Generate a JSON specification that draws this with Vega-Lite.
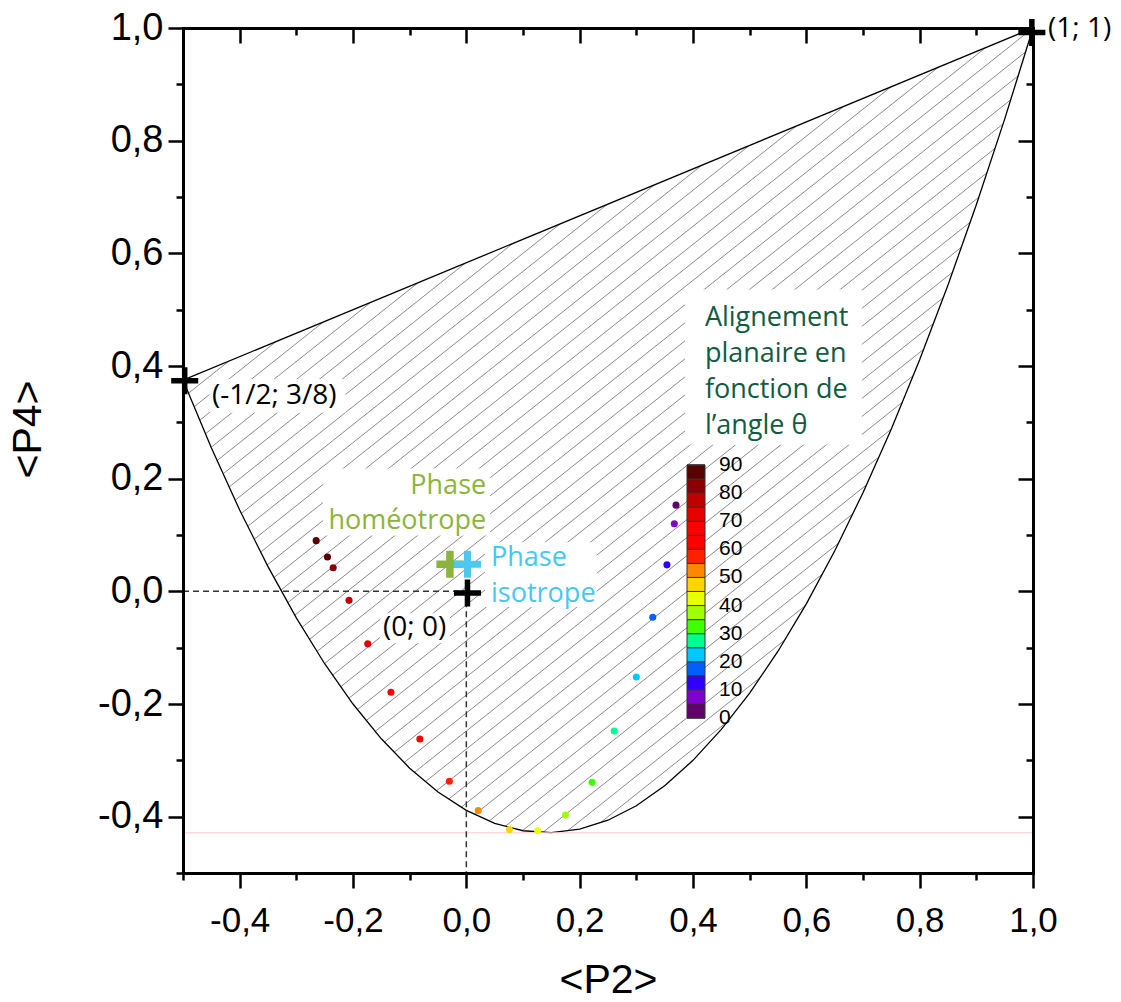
{
  "$schema": "https://vega.github.io/schema/vega-lite/v6.json",
  "width": 850,
  "height": 845,
  "autosize": {"type": "none"},
  "padding": {"left": 183, "top": 28, "right": 88, "bottom": 129},
  "background": "white",
  "config": {
    "font": "Liberation Sans",
    "view": {"stroke": null},
    "locale": {"number": {"decimal": ",", "thousands": " ", "grouping": [3], "currency": ["", " €"], "minus": "-"}},
    "axis": {"domainColor": "black", "domainWidth": 3, "domainCap": "square", "tickColor": "black", "tickWidth": 2.5, "grid": false, "labelFont": "Liberation Sans", "labelFontSize": 35, "labelColor": "black", "titleFont": "Liberation Sans", "titleFontSize": 41, "titleFontWeight": "normal", "titleColor": "black", "labelOverlap": false, "labelFlush": false}
  },
  "datasets": {
    "bound": [
      {"p2": -0.5, "p4": 0.375}, {"p2": -0.45, "p4": 0.2549}, {"p2": -0.4, "p4": 0.1444}, {"p2": -0.35, "p4": 0.0438},
      {"p2": -0.3, "p4": -0.0472}, {"p2": -0.25, "p4": -0.1285}, {"p2": -0.2, "p4": -0.2}, {"p2": -0.15, "p4": -0.2618},
      {"p2": -0.1, "p4": -0.3139}, {"p2": -0.05, "p4": -0.3563}, {"p2": 0, "p4": -0.3889}, {"p2": 0.05, "p4": -0.4118},
      {"p2": 0.1, "p4": -0.425}, {"p2": 0.15, "p4": -0.4285}, {"p2": 0.2, "p4": -0.4222}, {"p2": 0.25, "p4": -0.4063},
      {"p2": 0.3, "p4": -0.3806}, {"p2": 0.35, "p4": -0.3451}, {"p2": 0.4, "p4": -0.3}, {"p2": 0.45, "p4": -0.2451},
      {"p2": 0.5, "p4": -0.1806}, {"p2": 0.55, "p4": -0.1063}, {"p2": 0.6, "p4": -0.0222}, {"p2": 0.65, "p4": 0.0715},
      {"p2": 0.7, "p4": 0.175}, {"p2": 0.75, "p4": 0.2882}, {"p2": 0.8, "p4": 0.4111}, {"p2": 0.85, "p4": 0.5438},
      {"p2": 0.9, "p4": 0.6861}, {"p2": 0.95, "p4": 0.8382}, {"p2": 1, "p4": 1}
    ],
    "upper": [{"p2": -0.5, "p4": 0.375}, {"p2": 1, "p4": 1}],
    "hatch": [
      {"a": -1.555, "b": 0.32}, {"a": -1.515, "b": 0.36}, {"a": -1.475, "b": 0.4}, {"a": -1.435, "b": 0.44},
      {"a": -1.395, "b": 0.48}, {"a": -1.355, "b": 0.52}, {"a": -1.315, "b": 0.56}, {"a": -1.275, "b": 0.6},
      {"a": -1.235, "b": 0.64}, {"a": -1.195, "b": 0.68}, {"a": -1.155, "b": 0.72}, {"a": -1.115, "b": 0.76},
      {"a": -1.075, "b": 0.8}, {"a": -1.035, "b": 0.84}, {"a": -0.995, "b": 0.88}, {"a": -0.955, "b": 0.92},
      {"a": -0.915, "b": 0.96}, {"a": -0.875, "b": 1.0}, {"a": -0.835, "b": 1.04}, {"a": -0.795, "b": 1.08},
      {"a": -0.755, "b": 1.12}, {"a": -0.715, "b": 1.16}, {"a": -0.675, "b": 1.2}, {"a": -0.635, "b": 1.24},
      {"a": -0.595, "b": 1.28}, {"a": -0.555, "b": 1.32}, {"a": -0.515, "b": 1.36}, {"a": -0.475, "b": 1.4},
      {"a": -0.435, "b": 1.44}, {"a": -0.395, "b": 1.48}, {"a": -0.355, "b": 1.52}, {"a": -0.315, "b": 1.56},
      {"a": -0.275, "b": 1.6}, {"a": -0.235, "b": 1.64}, {"a": -0.195, "b": 1.68}, {"a": -0.155, "b": 1.72},
      {"a": -0.115, "b": 1.76}, {"a": -0.075, "b": 1.8}, {"a": -0.035, "b": 1.84}, {"a": 0.005, "b": 1.88},
      {"a": 0.045, "b": 1.92}, {"a": 0.085, "b": 1.96}, {"a": 0.125, "b": 2.0}
    ],
    "boxes": [
      {"x1": 0.386, "x2": 0.698, "y1": 0.26, "y2": 0.536},
      {"x1": -0.253, "x2": 0.042, "y1": 0.099, "y2": 0.218},
      {"x1": 0.033, "x2": 0.23, "y1": -0.028, "y2": 0.087},
      {"x1": -0.152, "x2": -0.029, "y1": -0.092, "y2": -0.039},
      {"x1": -0.453, "x2": -0.213, "y1": 0.317, "y2": 0.377}
    ],
    "planar": [
      {"theta": 90, "p2": -0.265, "p4": 0.09},
      {"theta": 85, "p2": -0.245, "p4": 0.061},
      {"theta": 80, "p2": -0.235, "p4": 0.042},
      {"theta": 75, "p2": -0.207, "p4": -0.016},
      {"theta": 70, "p2": -0.174, "p4": -0.093},
      {"theta": 65, "p2": -0.133, "p4": -0.179},
      {"theta": 60, "p2": -0.082, "p4": -0.262},
      {"theta": 55, "p2": -0.030, "p4": -0.337},
      {"theta": 50, "p2": 0.021, "p4": -0.389},
      {"theta": 45, "p2": 0.076, "p4": -0.423},
      {"theta": 40, "p2": 0.126, "p4": -0.425},
      {"theta": 35, "p2": 0.175, "p4": -0.397},
      {"theta": 30, "p2": 0.222, "p4": -0.339},
      {"theta": 25, "p2": 0.261, "p4": -0.248},
      {"theta": 20, "p2": 0.300, "p4": -0.152},
      {"theta": 15, "p2": 0.329, "p4": -0.046},
      {"theta": 10, "p2": 0.354, "p4": 0.047},
      {"theta": 5, "p2": 0.367, "p4": 0.120},
      {"theta": 0, "p2": 0.370, "p4": 0.153}
    ]
  },
  "resolve": {"axis": {"x": "independent", "y": "independent"}},
  "layer": [
    {
      "data": {"name": "hatch"},
      "mark": {"type": "rule", "color": "#8a8a8a", "strokeWidth": 1, "clip": true},
      "encoding": {
        "x": {"field": "a", "type": "quantitative", "axis": null, "scale": {"domain": [-0.5, 1], "nice": false, "zero": false}},
        "x2": {"field": "b"},
        "y": {"datum": -0.5, "type": "quantitative", "axis": null, "scale": {"domain": [-0.5, 1], "nice": false, "zero": false}},
        "y2": {"datum": 1}
      }
    },
    {
      "data": {"name": "bound"},
      "mark": {"type": "area", "color": "white", "opacity": 1},
      "encoding": {
        "x": {"field": "p2", "type": "quantitative", "axis": null},
        "y": {"field": "p4", "type": "quantitative", "axis": null},
        "y2": {"datum": -0.5}
      }
    },
    {
      "data": {"name": "upper"},
      "mark": {"type": "area", "color": "white", "opacity": 1},
      "encoding": {
        "x": {"field": "p2", "type": "quantitative", "axis": null},
        "y": {"field": "p4", "type": "quantitative", "axis": null},
        "y2": {"datum": 1}
      }
    },
    {
      "data": {"name": "boxes"},
      "mark": {"type": "rect", "color": "white", "opacity": 1},
      "encoding": {
        "x": {"field": "x1", "type": "quantitative", "axis": null},
        "x2": {"field": "x2"},
        "y": {"field": "y1", "type": "quantitative", "axis": null},
        "y2": {"field": "y2"}
      }
    },
    {
      "data": {"name": "bound"},
      "mark": {"type": "line", "color": "black", "strokeWidth": 1.3},
      "encoding": {
        "x": {"field": "p2", "type": "quantitative", "scale": {"domain": [-0.5, 1], "nice": false, "zero": false},
          "axis": {"orient": "bottom", "zindex": 1, "values": [-0.5, -0.4, -0.3, -0.2, -0.1, 0, 0.1, 0.2, 0.3, 0.4, 0.5, 0.6, 0.7, 0.8, 0.9, 1.0],
            "format": ".1f", "labelExpr": "abs(round(datum.value*10)) % 2 == 0 ? datum.label : ''",
            "tickSize": {"condition": {"test": "abs(round(datum.value*10)) % 2 == 0", "value": 15}, "value": 7},
            "labelPadding": 15, "title": "<P2>", "titleX": 425, "titleY": 107, "titleBaseline": "middle", "titleAlign": "center"}},
        "y": {"field": "p4", "type": "quantitative", "scale": {"domain": [-0.5, 1], "nice": false, "zero": false},
          "axis": {"orient": "left", "zindex": 1, "values": [-0.5, -0.4, -0.3, -0.2, -0.1, 0, 0.1, 0.2, 0.3, 0.4, 0.5, 0.6, 0.7, 0.8, 0.9, 1.0],
            "format": ".1f", "labelExpr": "abs(round(datum.value*10)) % 2 == 0 ? datum.label : ''",
            "tickSize": {"condition": {"test": "abs(round(datum.value*10)) % 2 == 0", "value": 15}, "value": 7},
            "labelFontSize": 38, "labelPadding": 5, "title": "<P4>", "titleX": -155, "titleY": 401, "titleAngle": -90, "titleBaseline": "middle", "titleAlign": "center"}}
      }
    },
    {
      "data": {"name": "upper"},
      "mark": {"type": "line", "color": "black", "strokeWidth": 1.3},
      "encoding": {
        "x": {"field": "p2", "type": "quantitative",
          "axis": {"orient": "top", "zindex": 1, "values": [-0.5, -0.4, -0.3, -0.2, -0.1, 0, 0.1, 0.2, 0.3, 0.4, 0.5, 0.6, 0.7, 0.8, 0.9, 1.0],
            "labels": false, "title": null,
            "tickSize": {"condition": {"test": "abs(round(datum.value*10)) % 2 == 0", "value": -15}, "value": -7}}},
        "y": {"field": "p4", "type": "quantitative",
          "axis": {"orient": "right", "zindex": 1, "values": [-0.5, -0.4, -0.3, -0.2, -0.1, 0, 0.1, 0.2, 0.3, 0.4, 0.5, 0.6, 0.7, 0.8, 0.9, 1.0],
            "labels": false, "title": null,
            "tickSize": {"condition": {"test": "abs(round(datum.value*10)) % 2 == 0", "value": -15}, "value": -7}}}
      }
    },
    {
      "data": {"values": [{"pmin": -0.4286}]},
      "mark": {"type": "rule", "color": "#ffcccc", "strokeWidth": 1},
      "encoding": {"y": {"field": "pmin", "type": "quantitative", "axis": null}}
    },
    {
      "data": {"values": [{"x1": -0.5, "y1": 0, "x2": 0, "y2": 0}, {"x1": 0, "y1": 0, "x2": 0, "y2": -0.5}]},
      "mark": {"type": "rule", "color": "#333333", "strokeWidth": 1.5, "strokeDash": [6, 4]},
      "encoding": {
        "x": {"field": "x1", "type": "quantitative", "axis": null},
        "x2": {"field": "x2"},
        "y": {"field": "y1", "type": "quantitative", "axis": null},
        "y2": {"field": "y2"}
      }
    },
    {
      "data": {"name": "planar"},
      "mark": {"type": "circle", "size": 50, "opacity": 1},
      "encoding": {
        "x": {"field": "p2", "type": "quantitative", "axis": null},
        "y": {"field": "p4", "type": "quantitative", "axis": null},
        "color": {"field": "theta", "type": "quantitative",
          "scale": {"type": "quantize", "domain": [-0.01, 90.0005],
            "range": ["#600068", "#8000d0", "#3000ff", "#0060ff", "#00c8ff", "#00ff90", "#40ff00", "#a0ff00", "#e8ff00", "#ffd400", "#ff8800", "#ff2000", "#ff0000", "#ff0000", "#e80000", "#c00000", "#8b0000", "#5a0000"]},
          "legend": {"type": "gradient", "orient": "none", "legendX": 504, "legendY": 437, "direction": "vertical", "padding": 0,
            "gradientLength": 253, "gradientThickness": 18, "title": null,
            "values": [-0.001, 0, 5, 10, 15, 20, 25, 30, 35, 40, 45, 50, 55, 60, 65, 70, 75, 80, 85, 90],
            "labelExpr": "datum.value >= 0 && round(datum.value) % 10 == 0 ? datum.label : ''",
            "labelFont": "Liberation Sans", "labelFontSize": 21, "labelColor": "black", "labelOffset": 14, "labelOverlap": false,
            "gradientStrokeColor": "#333333", "gradientStrokeWidth": 1}}
      }
    },
    {
      "data": {"values": [{"p2": 0.998, "p4": 0.992}, {"p2": -0.497, "p4": 0.374}, {"p2": 0.002, "p4": -0.003}]},
      "mark": {"type": "point", "shape": "M-1,0H1M0,-1V1", "filled": false, "stroke": "black", "strokeWidth": 5.5, "size": 729, "opacity": 1},
      "encoding": {
        "x": {"field": "p2", "type": "quantitative", "axis": null},
        "y": {"field": "p4", "type": "quantitative", "axis": null}
      }
    },
    {
      "data": {"values": [{"p2": -0.029, "p4": 0.048}]},
      "mark": {"type": "point", "shape": "M-1,0H1M0,-1V1", "filled": false, "stroke": "#8cb43c", "strokeWidth": 7.5, "size": 729, "opacity": 1},
      "encoding": {
        "x": {"field": "p2", "type": "quantitative", "axis": null},
        "y": {"field": "p4", "type": "quantitative", "axis": null}
      }
    },
    {
      "data": {"values": [{"p2": 0.002, "p4": 0.048}]},
      "mark": {"type": "point", "shape": "M-1,0H1M0,-1V1", "filled": false, "stroke": "#4cc9f0", "strokeWidth": 7, "size": 729, "opacity": 1},
      "encoding": {
        "x": {"field": "p2", "type": "quantitative", "axis": null},
        "y": {"field": "p4", "type": "quantitative", "axis": null}
      }
    },
    {
      "data": {"values": [{"t": "(1; 1)", "p2": 1.0265, "p4": 0.998}, {"t": "(-1/2; 3/8)", "p2": -0.449, "p4": 0.347}, {"t": "(0; 0)", "p2": -0.147, "p4": -0.065}]},
      "mark": {"type": "text", "font": "Open Sans", "fontSize": 28, "color": "black", "align": "left", "baseline": "middle"},
      "encoding": {
        "x": {"field": "p2", "type": "quantitative", "axis": null},
        "y": {"field": "p4", "type": "quantitative", "axis": null},
        "text": {"field": "t"}
      }
    },
    {
      "data": {"values": [{"t": "Phase\nhoméotrope", "p2": 0.035, "p4": 0.1876}]},
      "mark": {"type": "text", "font": "Open Sans", "fontSize": 27, "color": "#8cb43c", "align": "right", "baseline": "middle", "lineBreak": "\n", "lineHeight": 35},
      "encoding": {
        "x": {"field": "p2", "type": "quantitative", "axis": null},
        "y": {"field": "p4", "type": "quantitative", "axis": null},
        "text": {"field": "t"}
      }
    },
    {
      "data": {"values": [{"t": "Phase\nisotrope", "p2": 0.0436, "p4": 0.060}]},
      "mark": {"type": "text", "font": "Open Sans", "fontSize": 27, "color": "#45c8f3", "align": "left", "baseline": "middle", "lineBreak": "\n", "lineHeight": 36},
      "encoding": {
        "x": {"field": "p2", "type": "quantitative", "axis": null},
        "y": {"field": "p4", "type": "quantitative", "axis": null},
        "text": {"field": "t"}
      }
    },
    {
      "data": {"values": [{"t": "Alignement\nplanaire en\nfonction de\nl’angle θ", "p2": 0.421, "p4": 0.485}]},
      "mark": {"type": "text", "font": "Open Sans", "fontSize": 27, "color": "#105c42", "align": "left", "baseline": "middle", "lineBreak": "\n", "lineHeight": 36},
      "encoding": {
        "x": {"field": "p2", "type": "quantitative", "axis": null},
        "y": {"field": "p4", "type": "quantitative", "axis": null},
        "text": {"field": "t"}
      }
    }
  ]
}
